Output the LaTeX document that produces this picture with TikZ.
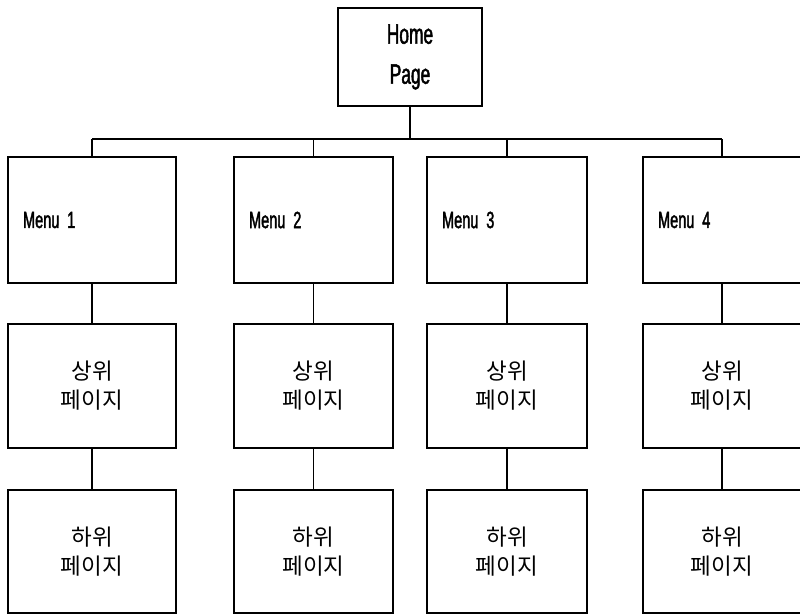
\documentclass[tikz,border=0pt]{standalone}
\usepackage{fontspec}
\setmainfont[FakeStretch=0.62, FakeBold=1.6]{Liberation Sans}
\newfontfamily\kr{Noto Sans CJK KR}
\begin{document}
\begin{tikzpicture}[x=1pt,y=-1pt,
  line width=1.5pt,
  box/.style={draw, rectangle, inner sep=0pt},
  homebox/.style={box, minimum width=144pt, minimum height=98pt,
    align=center, font=\fontsize{28}{40}\selectfont},
  menubox/.style={box, minimum height=126pt, inner xsep=15pt,
    align=left, font=\fontsize{23.5}{28}\selectfont},
  pagebox/.style={box, align=center, font=\kr\fontsize{22.5}{29}\selectfont}]
\useasboundingbox (0,0) rectangle (800,615);

% top of the site
\node[homebox] (home) at (410,57) {Home\\Page};

% menu level
\node[menubox, minimum width=168pt, text width=138pt] (m1) at (92,220) {Menu 1};
\node[menubox, minimum width=159pt, text width=129pt] (m2) at (313.5,220) {Menu 2};
\node[menubox, minimum width=160pt, text width=130pt] (m3) at (507,220) {Menu 3};
\node[menubox, minimum width=158pt, text width=128pt] (m4) at (722,220) {Menu 4};

% upper pages
\node[pagebox, minimum width=168pt, minimum height=124pt] (u1) at (92,386) {상위\\페이지};
\node[pagebox, minimum width=159pt, minimum height=124pt] (u2) at (313.5,386) {상위\\페이지};
\node[pagebox, minimum width=160pt, minimum height=124pt] (u3) at (507,386) {상위\\페이지};
\node[pagebox, minimum width=158pt, minimum height=124pt] (u4) at (722,386) {상위\\페이지};

% lower pages
\node[pagebox, minimum width=168pt, minimum height=123pt] (l1) at (92,551.5) {하위\\페이지};
\node[pagebox, minimum width=159pt, minimum height=123pt] (l2) at (313.5,551.5) {하위\\페이지};
\node[pagebox, minimum width=160pt, minimum height=123pt] (l3) at (507,551.5) {하위\\페이지};
\node[pagebox, minimum width=158pt, minimum height=123pt] (l4) at (722,551.5) {하위\\페이지};

% bus line below the home page
\coordinate (bus) at (0,139);
\draw (home.south) -- (home.south |- bus);
\draw (m1.north |- bus) -- (m4.north |- bus);
\foreach \i in {1,...,4} {
  \draw (m\i.north) -- (m\i.north |- bus);
  \draw (m\i.south) -- (u\i.north);
  \draw (u\i.south) -- (l\i.north);
}
\end{tikzpicture}
\end{document}
